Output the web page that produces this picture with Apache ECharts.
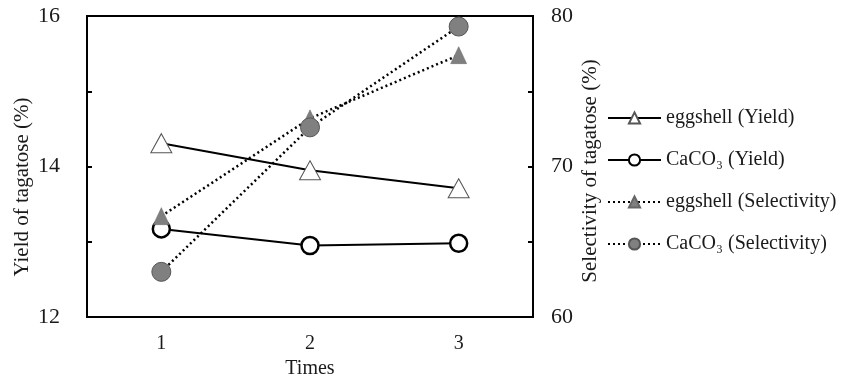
<!DOCTYPE html>
<html>
<head>
<meta charset="utf-8">
<script src="https://cdn.jsdelivr.net/npm/echarts@6/dist/echarts.min.js"></script>
<style>html,body{margin:0;padding:0;background:#fff;}#c{width:850px;height:384px;}</style>
</head>
<body>
<div id="c"></div>
<script>
const categories = ['1', '2', '3'];
const eggshellYield = [14.31, 13.95, 13.71];
const caco3Yield = [13.17, 12.95, 12.98];
const eggshellSelectivity = [66.7, 73.2, 77.4];
const caco3Selectivity = [63.0, 72.6, 79.3];
const seriesNames = ['eggshell (Yield)', 'CaCO\u2083 (Yield)', 'eggshell (Selectivity)', 'CaCO\u2083 (Selectivity)'];
const leftTitle = 'Yield of tagatose (%)';
const rightTitle = 'Selectivity of tagatose (%)';
const xTitle = 'Times';

const FONT = 'Liberation Serif';
const TXT = '#1a1a1a';
const chart = echarts.init(document.getElementById('c'), null, {renderer: 'canvas'});
const dotted = {color: '#000', width: 2.5, type: [2, 3], cap: 'butt'};
const solid = {color: '#000', width: 2};

chart.setOption({
  animation: false,
  backgroundColor: '#fff',
  textStyle: {fontFamily: FONT},
  grid: {left: 87, right: 317, top: 16, bottom: 67, show: true, borderColor: '#000', borderWidth: 2, backgroundColor: 'transparent'},
  legend: {
    orient: 'vertical', left: 607, top: 108, padding: 0,
    itemWidth: 53, itemHeight: 14, itemGap: 22,
    textStyle: {fontFamily: FONT, fontSize: 20, color: TXT, lineHeight: 20},
    data: seriesNames
  },
  xAxis: {
    type: 'category', data: categories, boundaryGap: true,
    axisLine: {lineStyle: {color: '#000', width: 2}},
    axisTick: {show: false},
    axisLabel: {fontFamily: FONT, fontSize: 20, color: TXT, margin: 17},
    splitLine: {show: false}
  },
  yAxis: [{
    type: 'value', min: 12, max: 16, interval: 1, position: 'left',
    axisLine: {show: true, lineStyle: {color: '#000', width: 2}},
    axisTick: {show: true, inside: true, length: 5, lineStyle: {color: '#000', width: 2}},
    axisLabel: {fontFamily: FONT, fontSize: 22, color: TXT, margin: 27, formatter: v => (v % 2 === 0 ? String(v) : '')},
    splitLine: {show: false}
  }, {
    type: 'value', min: 60, max: 80, interval: 5, position: 'right',
    axisLine: {show: true, lineStyle: {color: '#000', width: 2}},
    axisTick: {show: true, inside: true, length: 5, lineStyle: {color: '#000', width: 2}},
    axisLabel: {fontFamily: FONT, fontSize: 22, color: TXT, margin: 18, formatter: v => (v % 10 === 0 ? String(v) : '')},
    splitLine: {show: false}
  }],
  graphic: [
    {type: 'text', x: 22, y: 187, rotation: Math.PI / 2,
     style: {text: leftTitle, font: '21px "Liberation Serif"', fill: TXT, align: 'center', verticalAlign: 'middle'}},
    {type: 'text', x: 590, y: 171, rotation: Math.PI / 2,
     style: {text: rightTitle, font: '21px "Liberation Serif"', fill: TXT, align: 'center', verticalAlign: 'middle'}},
    {type: 'text', x: 310, y: 369, style: {text: xTitle, font: '20px "Liberation Serif"', fill: TXT, align: 'center', verticalAlign: 'middle'}}
  ],
  series: [
    {name: seriesNames[0], type: 'line', yAxisIndex: 0, data: eggshellYield, z: 3,
     symbol: 'triangle', symbolSize: [21, 19], lineStyle: solid,
     itemStyle: {color: '#fff', borderColor: '#555', borderWidth: 1}},
    {name: seriesNames[1], type: 'line', yAxisIndex: 0, data: caco3Yield, z: 3,
     symbol: 'circle', symbolSize: 17, lineStyle: solid,
     itemStyle: {color: '#fff', borderColor: '#000', borderWidth: 2.5}},
    {name: seriesNames[2], type: 'line', yAxisIndex: 1, data: eggshellSelectivity, z: 4,
     symbol: 'triangle', symbolSize: [16, 17], lineStyle: dotted,
     itemStyle: {color: '#7f7f7f', borderColor: '#666', borderWidth: 0.5}},
    {name: seriesNames[3], type: 'line', yAxisIndex: 1, data: caco3Selectivity, z: 4,
     symbol: 'circle', symbolSize: 19, lineStyle: dotted,
     itemStyle: {color: '#808080', borderColor: '#555', borderWidth: 1}}
  ]
});
</script>
</body>
</html>
